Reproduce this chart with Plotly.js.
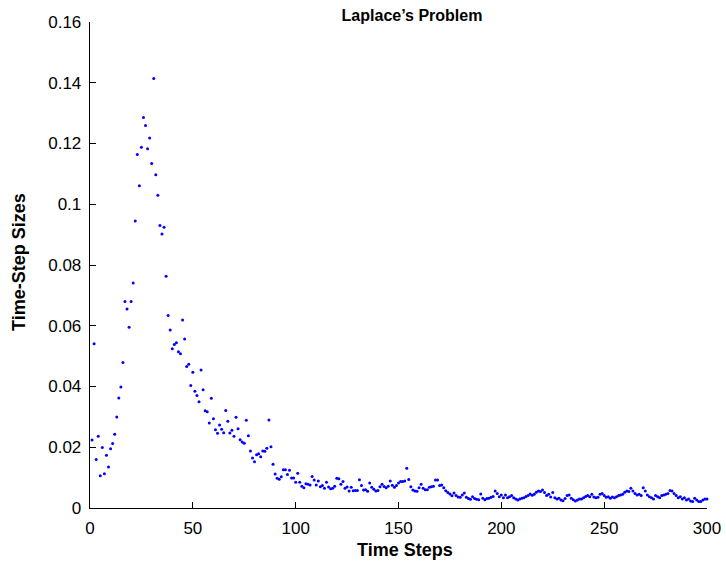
<!DOCTYPE html>
<html>
<head>
<meta charset="utf-8">
<script src="https://cdn.plot.ly/plotly-3.0.1.min.js"></script>
<style>html,body{margin:0;padding:0;background:#fff;}#chart{width:726px;height:566px;}</style>
</head>
<body>
<div id="chart"></div>
<script>
const chartTitle = "Laplace\u2019s Problem";
const xTitle = "Time Steps";
const yTitle = "Time-Step Sizes";
const xTickVals = [0, 50, 100, 150, 200, 250, 300];
const yTickVals = [0, 0.02, 0.04, 0.06, 0.08, 0.1, 0.12, 0.14, 0.16];
const yTickText = ["0", "0.02", "0.04", "0.06", "0.08", "0.1", "0.12", "0.14", "0.16"];

// time-step sizes for steps 1..300
const sizes1 = [0.0224,0.0541,0.0160,0.0236,0.0106,0.0199,0.0113,0.0174,0.0135,0.0195,
0.0212,0.0243,0.0300,0.0362,0.0398,0.0479,0.0680,0.0655,0.0595,0.0680,
0.0741,0.0945,0.1164,0.1061,0.1188,0.1286,0.1259,0.1183,0.1218,0.1134,
0.1414,0.1097,0.1030,0.0930,0.0902,0.0924,0.0763,0.0634,0.0586,0.0524,
0.0538,0.0544,0.0514,0.0508,0.0619,0.0556,0.0466,0.0473,0.0403,0.0447];
const sizes2 = [0.0384,0.0370,0.0350,0.0454,0.0389,0.0320,0.0317,0.0280,0.0361,0.0294,
0.0258,0.0246,0.0273,0.0259,0.0248,0.0321,0.0286,0.0247,0.0256,0.0236,
0.0299,0.0261,0.0225,0.0217,0.0213,0.0289,0.0238,0.0188,0.0165,0.0152,
0.0175,0.0179,0.0169,0.0188,0.0187,0.0197,0.0290,0.0202,0.0144,0.0112,
0.0098,0.0095,0.0103,0.0126,0.0126,0.0110,0.0124,0.0099,0.0099,0.0085];
const sizes3 = [0.0114,0.0085,0.0072,0.0067,0.0080,0.0078,0.0076,0.0104,0.0092,0.0076,
0.0089,0.0070,0.0074,0.0065,0.0085,0.0069,0.0063,0.0065,0.0072,0.0098,
0.0096,0.0078,0.0087,0.0065,0.0069,0.0056,0.0068,0.0057,0.0058,0.0058,
0.0093,0.0074,0.0059,0.0060,0.0055,0.0082,0.0068,0.0062,0.0056,0.0058,
0.0070,0.0078,0.0071,0.0067,0.0072,0.0089,0.0075,0.0068,0.0074,0.0082];
const sizes4 = [0.0087,0.0087,0.0089,0.0131,0.0094,0.0070,0.0059,0.0056,0.0055,0.0067,
0.0078,0.0065,0.0060,0.0060,0.0068,0.0070,0.0072,0.0092,0.0092,0.0074,
0.0076,0.0067,0.0057,0.0051,0.0046,0.0040,0.0049,0.0041,0.0036,0.0035,
0.0043,0.0049,0.0035,0.0031,0.0029,0.0037,0.0031,0.0029,0.0027,0.0046,
0.0032,0.0027,0.0031,0.0032,0.0035,0.0038,0.0056,0.0048,0.0037,0.0043];
const sizes5 = [0.0034,0.0043,0.0034,0.0037,0.0041,0.0034,0.0030,0.0026,0.0030,0.0032,
0.0034,0.0038,0.0041,0.0046,0.0042,0.0045,0.0052,0.0056,0.0054,0.0059,
0.0051,0.0041,0.0045,0.0036,0.0051,0.0034,0.0030,0.0032,0.0026,0.0024,
0.0031,0.0041,0.0043,0.0032,0.0027,0.0023,0.0026,0.0030,0.0030,0.0034,
0.0038,0.0041,0.0037,0.0045,0.0036,0.0034,0.0035,0.0045,0.0048,0.0041];
const sizes6 = [0.0035,0.0037,0.0032,0.0036,0.0034,0.0037,0.0041,0.0043,0.0045,0.0052,
0.0056,0.0054,0.0065,0.0056,0.0048,0.0043,0.0045,0.0041,0.0067,0.0056,
0.0043,0.0037,0.0034,0.0030,0.0041,0.0037,0.0034,0.0041,0.0043,0.0045,
0.0048,0.0058,0.0056,0.0048,0.0041,0.0034,0.0037,0.0030,0.0034,0.0026,
0.0030,0.0023,0.0021,0.0032,0.0026,0.0021,0.0021,0.0026,0.0030,0.0030];

const sizes = [].concat(sizes1, sizes2, sizes3, sizes4, sizes5, sizes6);
const steps = sizes.map((_, i) => i + 1);

const font = "Liberation Sans, Arial, Helvetica, sans-serif";

const trace = {
  x: steps,
  y: sizes,
  type: "scatter",
  mode: "markers",
  marker: {color: "#0000ff", size: 3},
  hoverinfo: "skip",
  cliponaxis: false
};

const layout = {
  width: 726,
  height: 566,
  margin: {l: 90, r: 19, t: 22, b: 58},
  paper_bgcolor: "#ffffff",
  plot_bgcolor: "#ffffff",
  showlegend: false,
  font: {family: font, color: "#000000", size: 17},
  title: {
    text: "<b>" + chartTitle + "</b>",
    font: {family: font, size: 16, color: "#000000"},
    x: 412 / 726,
    xanchor: "center",
    xref: "container",
    y: 1 - 15 / 566,
    yanchor: "middle",
    yref: "container"
  },
  xaxis: {
    range: [0, 300],
    tickvals: xTickVals,
    ticktext: xTickVals.map(String),
    ticks: "inside",
    ticklen: 6,
    tickwidth: 1,
    tickcolor: "#000000",
    showline: true,
    linecolor: "#000000",
    linewidth: 1.3,
    showgrid: false,
    zeroline: false,
    mirror: false,
    tickfont: {family: font, size: 17, color: "#000000"},
    ticklabelstandoff: 4
  },
  yaxis: {
    range: [0, 0.16],
    tickvals: yTickVals,
    ticktext: yTickText,
    ticks: "inside",
    ticklen: 6,
    tickwidth: 1,
    tickcolor: "#000000",
    showline: true,
    linecolor: "#000000",
    linewidth: 1.3,
    showgrid: false,
    zeroline: false,
    mirror: false,
    tickfont: {family: font, size: 17, color: "#000000"},
    ticklabelstandoff: 4
  },
  annotations: [
    {
      text: "<b>" + xTitle + "</b>",
      xref: "paper", yref: "paper",
      x: (404.5 - 90) / 617, y: (508 - 550) / 486,
      xanchor: "center", yanchor: "middle",
      showarrow: false,
      font: {family: font, size: 18, color: "#000000"}
    },
    {
      text: "<b>" + yTitle + "</b>",
      xref: "paper", yref: "paper",
      x: (18.5 - 90) / 617, y: (508 - 262.5) / 486,
      xanchor: "center", yanchor: "middle",
      textangle: -90,
      showarrow: false,
      font: {family: font, size: 18, color: "#000000"}
    }
  ]
};

Plotly.newPlot("chart", [trace], layout, {staticPlot: true, displayModeBar: false});
</script>
</body>
</html>
